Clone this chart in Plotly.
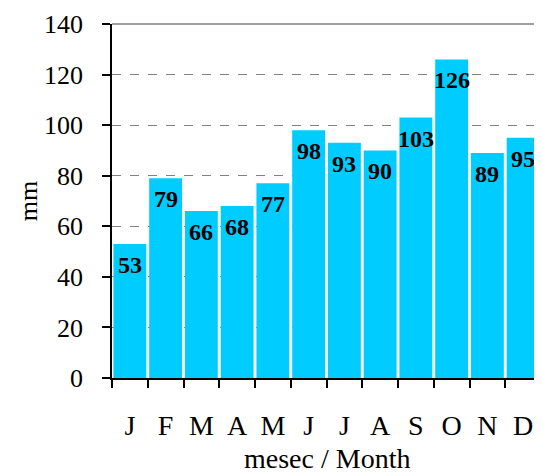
import plotly.graph_objects as go

months = ["J", "F", "M", "A", "M ", "J ", "J  ", "A ", "S", "O", "N", "D"]
tick_text = ["J", "F", "M", "A", "M", "J", "J", "A", "S", "O", "N", "D"]
precip = [53, 79, 66, 68, 77, 98, 93, 90, 103, 126, 89, 95]
y_ticks = [0, 20, 40, 60, 80, 100, 120, 140]
x_title = "mesec / Month"
y_title = "mm"

font = "Liberation Serif, Times New Roman, serif"

fig = go.Figure()
fig.add_trace(go.Bar(x=months, y=precip, marker=dict(color="#00CCFF", line=dict(width=0)),
                     hoverinfo="skip"))

for m, v in zip(months, precip):
    fig.add_annotation(x=m, y=v, text="<b>%d</b>" % v, showarrow=False,
                       yanchor="top", yshift=-6,
                       font=dict(family=font, size=24, color="black"))

fig.add_annotation(xref="paper", yref="paper", x=0.5, y=-0.226, text=x_title,
                   showarrow=False, xanchor="center", yanchor="middle",
                   font=dict(family=font, size=28, color="black"))
fig.add_annotation(xref="paper", yref="paper", x=-0.195, y=0.5, text=y_title,
                   showarrow=False, xanchor="center", yanchor="middle", textangle=-90,
                   font=dict(family=font, size=26, color="black"))

fig.update_layout(
    width=534, height=466,
    margin=dict(l=104, r=1, t=16, b=96),
    paper_bgcolor="white", plot_bgcolor="white",
    bargap=0.08, showlegend=False,
    font=dict(family=font, size=26, color="black"),
    shapes=[
        dict(type="line", xref="paper", yref="paper", x0=0, x1=1, y0=1, y1=1,
             line=dict(color="#A0A0A0", width=2)),
        dict(type="line", xref="paper", yref="paper", x0=1, x1=1, y0=0, y1=1,
             line=dict(color="#C0C0C0", width=2)),
    ],
)
fig.update_xaxes(
    type="category", tickmode="array", tickvals=months, ticktext=tick_text,
    tickson="boundaries", ticks="outside", ticklen=8, tickcolor="black", tickwidth=1.5,
    showline=True, linecolor="black", linewidth=1.5, showgrid=False,
    ticklabelstandoff=22, automargin=False,
    tickfont=dict(family=font, size=28, color="black"),
)
fig.update_yaxes(
    range=[0, 140], tickmode="array", tickvals=y_ticks,
    ticks="outside", ticklen=8, tickcolor="black", tickwidth=1.5,
    showline=True, linecolor="black", linewidth=1.5,
    showgrid=True, gridcolor="#808080", griddash="dash", gridwidth=1,
    zeroline=False, ticklabelstandoff=14, automargin=False,
    tickfont=dict(family=font, size=26, color="black"),
)

fig.write_html("out.html")
